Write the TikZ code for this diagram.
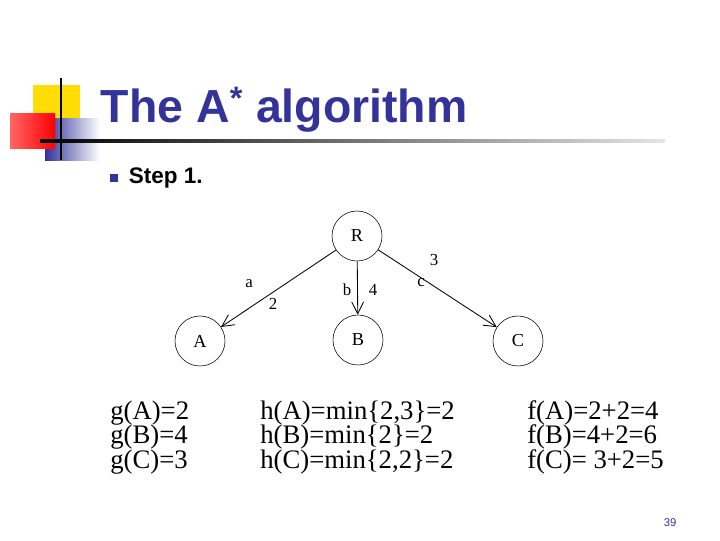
\documentclass[tikz,border=0pt]{standalone}
\usepackage{fontspec}
\setmainfont{Liberation Serif}
\setsansfont{Liberation Sans}
\usetikzlibrary{arrows.meta}
\definecolor{titleblue}{RGB}{51,51,153}
\tikzset{
  state/.style={draw, circle, minimum size=1.25cm, inner sep=0pt, font=\fontsize{13}{14}\selectfont},
  edge/.style={semithick, -{Straight Barb[length=3mm, width=3mm]}},
  elabel/.style={font=\fontsize{12}{13}\selectfont},
  tabtext/.style={anchor=west, inner sep=0pt, font=\fontsize{19}{20}\selectfont}
}
\begin{document}
\begin{tikzpicture}[x=0.025cm, y=-0.025cm]
    \useasboundingbox (0,0) rectangle (720,540);

    % Corner decoration
    \fill[yellow!80!orange] (33,85) rectangle (80,130);
    \shade[left color=titleblue, right color=white] (45,118) rectangle (100,160);
    \shade[left color=red!60!white, right color=red] (10,113) rectangle (55,148);
    \draw[thick] (61,78) -- (61,160);
    \shade[left color=black, right color=gray!20] (40,139) rectangle (665,142);

    % Title
    \node[anchor=west, text=titleblue, font=\sffamily\bfseries\fontsize{33}{36}\selectfont] (title) at (96,110) {The A\textsuperscript{*} algorithm};
    \fill[titleblue] (110,174) rectangle (118,182);
    \node[anchor=west, font=\sffamily\bfseries\fontsize{16}{18}\selectfont] (step) at (124,178) {Step 1.};

    % Search tree
    \node[state] (R) at (357,236) {R};
    \node[state] (A) at (200,341) {A};
    \node[state] (B) at (358,340) {B};
    \node[state] (C) at (518,341) {C};
    \draw[edge] (R) -- (A);
    \draw[edge] (R) -- (B);
    \draw[edge] (R) -- (C);
    \node[elabel] (la) at (249,284) {a};
    \node[elabel] (l2) at (273,304) {2};
    \node[elabel] (lb) at (347,290) {b};
    \node[elabel] (l4) at (373,290) {4};
    \node[elabel] (lc) at (421,283) {c};
    \node[elabel] (l3) at (434,260) {3};

    % Costs
    \node[tabtext] (g) at (110,413) {g(A)=2};
    \node[tabtext] at (110,437) {g(B)=4};
    \node[tabtext] at (110,462) {g(C)=3};
    \node[tabtext] (h) at (260,413) {h(A)=min\{2,3\}=2};
    \node[tabtext] at (260,437) {h(B)=min\{2\}=2};
    \node[tabtext] at (260,462) {h(C)=min\{2,2\}=2};
    \node[tabtext] (f) at (527,413) {f(A)=2+2=4};
    \node[tabtext] at (527,437) {f(B)=4+2=6};
    \node[tabtext] at (527,462) {f(C)= 3+2=5};

    % Page number
    \node[text=titleblue, font=\sffamily\fontsize{8}{9}\selectfont] (page) at (670,523) {39};
\end{tikzpicture}
\end{document}
